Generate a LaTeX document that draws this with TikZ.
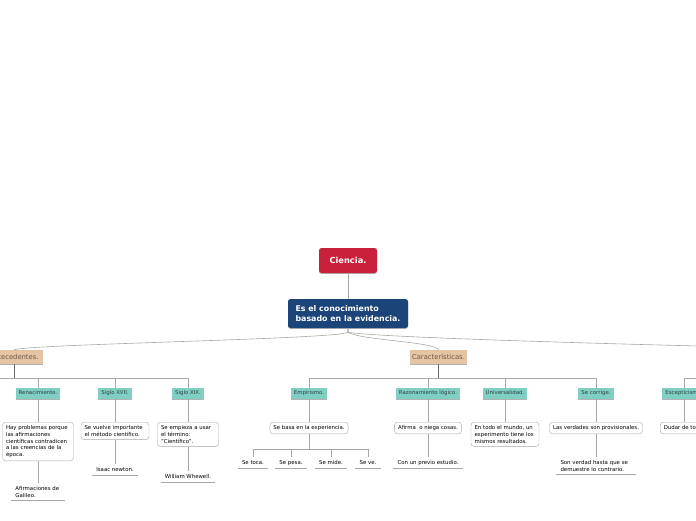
\documentclass[tikz,border=0pt]{standalone}
\usepackage{fontspec}
\setmainfont{DejaVu Sans}
\usetikzlibrary{positioning,calc,shadows}

\definecolor{rojoraiz}{HTML}{C8203A}
\definecolor{azultema}{HTML}{1B4479}
\definecolor{beige}{HTML}{E5C4A4}
\definecolor{beigetexto}{HTML}{6E5A46}
\definecolor{verdeagua}{HTML}{80CFC2}
\definecolor{verdetexto}{HTML}{2A4541}
\definecolor{linea}{HTML}{A8A8A8}
\definecolor{lineaosc}{HTML}{666666}

\begin{document}
\begin{tikzpicture}[
    x=1pt, y=-1pt,
    sombra/.style={drop shadow={shadow xshift=0pt, shadow yshift=-0.8pt, opacity=0.3, fill=black}},
    raiz/.style={fill=rojoraiz, text=white, rounded corners=2.5pt, font=\bfseries\fontsize{8.3}{9}\selectfont, minimum width=58pt, minimum height=25pt, inner sep=0pt, sombra},
    tema/.style={fill=azultema, text=white, rounded corners=2.5pt, font=\bfseries\fontsize{7.9}{9.3}\selectfont, align=left, minimum width=120pt, minimum height=29pt, inner sep=0pt, sombra},
    rama1/.style={fill=beige, text=beigetexto, font=\fontsize{6.8}{8}\selectfont, minimum height=14pt, inner xsep=2.5pt, inner ysep=0pt, sombra},
    rama2/.style={fill=verdeagua, text=verdetexto, font=\fontsize{5.4}{6}\selectfont, minimum height=11pt, inner xsep=3pt, inner ysep=0pt, text height=3.9pt, text depth=1.1pt, sombra},
    caja/.style={draw=linea, fill=white, rounded corners=3pt, font=\fontsize{5.4}{6.7}\selectfont, align=left, inner xsep=3.5pt, inner ysep=3.3pt, anchor=north},
    hoja/.style={font=\fontsize{5.4}{6.7}\selectfont, align=left, inner xsep=4pt, inner ysep=3pt, anchor=north},
    corta/.style={text height=3.9pt, text depth=1.1pt},
    con/.style={draw=linea, line width=0.6pt},
    conosc/.style={draw=lineaosc, line width=0.6pt}
]
\useasboundingbox (0,0) rectangle (696,520);
\clip (0,0) rectangle (696,520);

\node[raiz] (ciencia) at (348,260.5) {Ciencia.};
\node[tema] (tema) at (348,313.5) {Es el conocimiento\\basado en la evidencia.};
\node[rama1, minimum width=58pt] (ante) at (14,357) {Antecedentes.};
\node[rama1] (carac) at (438.5,357) {Características.};
\coordinate (tercera) at (960,352);
\coordinate (antiguo) at (-60,388);

\node[rama2] (rena) at (38,393.5) {Renacimiento.};
\node[rama2] (xvii) at (115,393.5) {Siglo XVII.};
\node[rama2] (xix) at (188,393.5) {Siglo XIX.};
\node[rama2] (empi) at (309,393.5) {Empirismo.};
\node[rama2] (razo) at (428,393.5) {Razonamiento lógico.};
\node[rama2] (univ) at (505,393.5) {Universalidad.};
\node[rama2] (corr) at (596,393.5) {Se corrige.};
\node[rama2] (esce) at (684,393.5) {Escepticismo.};

\node[caja, text width=64pt] (problemas) at (38,422) {Hay problemas porque\\las afirmaciones\\científicas contradicen\\a las creencias de la\\época.};
\node[caja, text width=61pt] (metodo) at (115,422) {Se vuelve importante\\el método científico.};
\node[caja, text width=54pt] (termino) at (188,422) {Se empieza a usar\\el término:\\"Científico".};
\node[caja, corta] (basa) at (309,422) {Se basa en la experiencia.};
\node[caja, corta] (afirma) at (428,422) {Afirma\ \ o niega cosas.};
\node[caja, text width=61pt] (mundo) at (505,422) {En todo el mundo, un\\experimento tiene los\\mismos resultados.};
\node[caja, corta] (verdades) at (596,422) {Las verdades son provisionales.};
\node[caja, corta] (dudar) at (684,422) {Dudar de todo.};

\node[hoja, text width=45pt] (galileo) at (38,483) {Afirmaciones de\\Galileo.};
\node[hoja, corta] (newton) at (115,464) {Isaac newton.};
\node[hoja, corta] (whewell) at (188,471) {William Whewell.};
\node[hoja, corta] (toca) at (253,457) {Se toca.};
\node[hoja, corta] (pesa) at (291,457) {Se pesa.};
\node[hoja, corta] (mide) at (331,457) {Se mide.};
\node[hoja, corta] (ve) at (368,457) {Se ve.};
\node[hoja, corta] (previo) at (428,457) {Con un previo estudio.};
\node[hoja, text width=71pt] (contrario) at (596,457) {Son verdad hasta que se\\demuestre lo contrario.};

\draw[con] (ciencia) -- (tema);
\draw[con] (tema.south) -- ++(0,4) .. controls +(-8,7) and (30,344) .. (ante.north);
\draw[con] (tema.south) -- ++(0,4) .. controls +(12,8) and +(-3,-8) .. (carac.north);
\draw[con] (tema.south) -- ++(0,4) .. controls +(30,6) and +(-250,-5) .. (tercera);

\foreach \h in {rena,xvii,xix,antiguo}
    \draw[con] (ante.south) -- ++(0,14) -| (\h.north);
\foreach \h in {empi,razo,univ,corr}
    \draw[con] (carac.south) -- ++(0,14) -| (\h.north);
\draw[con] (tercera) -- ++(0,26) -| (esce.north);
\draw[conosc] (ante.south) -- ++(0,14);
\draw[conosc] (carac.south) -- ++(0,14);

\foreach \a/\b in {rena/problemas, xvii/metodo, xix/termino, empi/basa, razo/afirma, univ/mundo, corr/verdades, esce/dudar, problemas/galileo, metodo/newton, termino/whewell, afirma/previo, verdades/contrario}
    \draw[con] (\a) -- (\b);
\foreach \h in {toca,pesa,mide,ve}
    \draw[con] (basa.south) -- ++(0,15) -| (\h.north);

\foreach \h in {galileo,newton,whewell,toca,pesa,mide,ve,previo,contrario}
    \draw[con] (\h.south west) -- (\h.south east);
\end{tikzpicture}
\end{document}
